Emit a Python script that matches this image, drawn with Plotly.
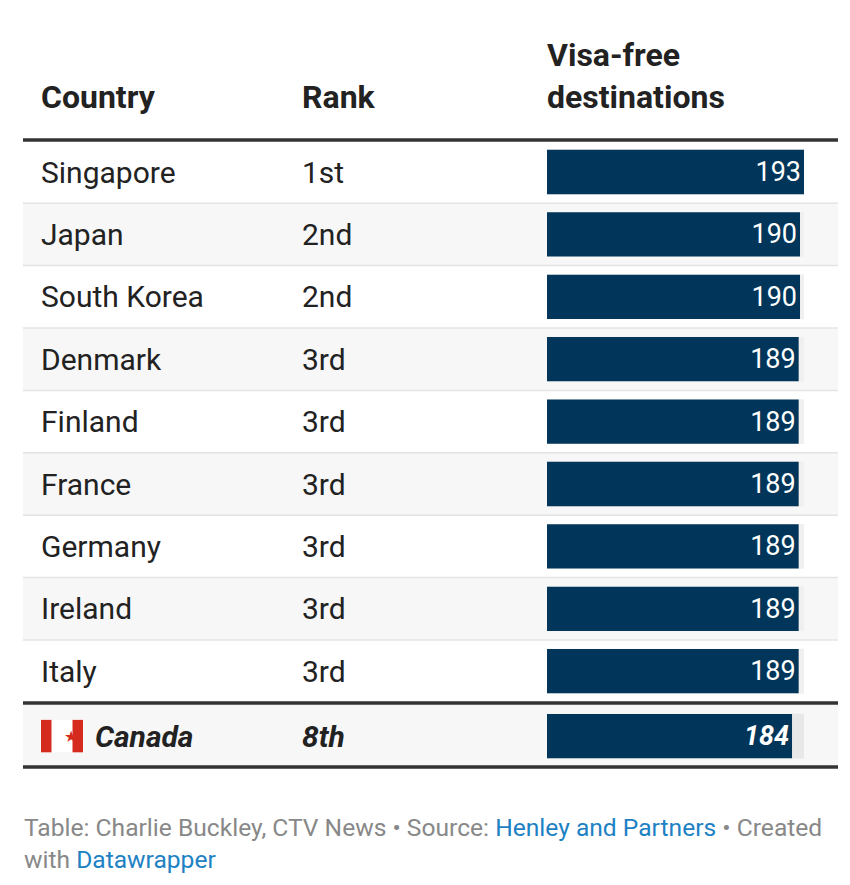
import plotly.graph_objects as go

countries = ["Singapore","Japan","South Korea","Denmark","Finland","France","Germany","Ireland","Italy","Canada"]
ranks = ["1st","2nd","2nd","3rd","3rd","3rd","3rd","3rd","3rd","8th"]
values = [193,190,190,189,189,189,189,189,189,184]

W, H = 850, 885
OFF = 8  # page body margin
ROW0, ROWH = 172 - OFF, 62.4
rows = list(range(9)) + [9.04]
def r2px_inv(p):
    return (p - OFF - ROW0) / ROWH
def px(x):
    return (x - OFF) / W

FONT = "Roboto"
BAR = "#01365a"
fig = go.Figure()
shapes = []
ann = []

for i, r in enumerate(rows):
    if i % 2 == 1:
        shapes.append(dict(type="rect", xref="paper", yref="y", x0=px(23), x1=px(838),
                           y0=r - 0.5, y1=r + 0.5 if i < 9 else r + 0.52, fillcolor="#f7f7f7", line_width=0, layer="below"))
    if 0 < i < 9:
        shapes.append(dict(type="line", xref="paper", yref="y", x0=px(23), x1=px(838),
                           y0=r - 0.5, y1=r - 0.5, line=dict(color="#e4e4e4", width=1.5), layer="below"))
    shapes.append(dict(type="rect", xref="x", yref="y", x0=0, x1=max(values), y0=r - 0.36, y1=r + 0.36,
                       fillcolor="#e8e8e8" if i == 9 else "#f0f0f0", line_width=0, layer="below"))

for y in [r2px_inv(140), r2px_inv(703), r2px_inv(767)]:
    shapes.append(dict(type="line", xref="paper", yref="y", x0=px(23), x1=px(838), y0=y, y1=y,
                       line=dict(color="#333333", width=3.5)))

fig.add_trace(go.Bar(x=values, y=rows, orientation="h", width=0.71, marker=dict(color=BAR, line_width=0),
                     text=[f"<i><b>{v}</b></i>" if c == "Canada" else str(v) for c, v in zip(countries, values)],
                     textposition="inside", insidetextanchor="end",
                     textfont=dict(family=FONT, size=27, color="white"), hoverinfo="skip"))

for c, rk, r in zip(countries, ranks, rows):
    canada = c == "Canada"
    ann.append(dict(x=px(93 if canada else 39), y=r, xref="paper", yref="y", xanchor="left", yanchor="middle",
                    text=f"<b><i>{c}</i></b>" if canada else c, showarrow=False,
                    font=dict(family=FONT, size=30, color="#222222")))
    ann.append(dict(x=px(300), y=r, xref="paper", yref="y", xanchor="left", yanchor="middle",
                    text=f"<b><i>{rk}</i></b>" if canada else rk, showarrow=False,
                    font=dict(family=FONT, size=30, color="#222222")))

fr = rows[9]
shapes.append(dict(type="rect", xref="paper", yref="y", x0=px(41), x1=px(83), y0=fr - 0.26, y1=fr + 0.26,
                   fillcolor="white", line_width=0))
for a, b in [(41, 51.5), (72.5, 83)]:
    shapes.append(dict(type="rect", xref="paper", yref="y", x0=px(a), x1=px(b), y0=fr - 0.26, y1=fr + 0.26,
                       fillcolor="#d52b1e", line_width=0))
ann.append(dict(x=px(62), y=fr, xref="paper", yref="y", text="★", showarrow=False,
                font=dict(size=16, color="#d52b1e", family="DejaVu Sans")))

hy = r2px_inv(118)
for x, t in [(39, "Country"), (300, "Rank"), (545, "Visa-free<br>destinations")]:
    ann.append(dict(x=px(x), y=hy, xref="paper", yref="y", xanchor="left", yanchor="bottom",
                    text=f"<b>{t}</b>", showarrow=False, align="left",
                    font=dict(family=FONT, size=32, color="#222222")))

ann.append(dict(x=px(22), y=r2px_inv(843), xref="paper", yref="y", xanchor="left", yanchor="middle",
                align="left", showarrow=False,
                text="Table: Charlie Buckley, CTV News • Source: <span style='color:#1d81c4'>Henley and Partners</span> • Created<br>with <span style='color:#1d81c4'>Datawrapper</span>",
                font=dict(family=FONT, size=24.6, color="#888888")))

fig.update_layout(
    width=W, height=H, margin=dict(l=0, r=0, t=0, b=0),
    paper_bgcolor="white", plot_bgcolor="rgba(0,0,0,0)", showlegend=False,
    xaxis=dict(range=[0, max(values)], domain=[px(547), px(804)], visible=False, fixedrange=True),
    yaxis=dict(range=[r2px_inv(H + OFF), r2px_inv(OFF)], domain=[0, 1], visible=False, fixedrange=True),
    shapes=shapes, annotations=ann,
)
fig.write_html("out.html")
